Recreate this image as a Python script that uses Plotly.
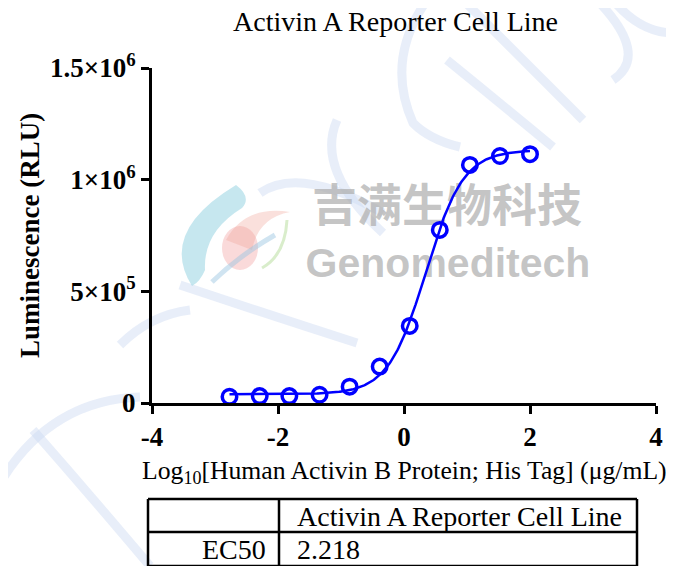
import numpy as np
import plotly.graph_objects as go

# ---- data ----
log_conc = [-2.77, -2.29, -1.82, -1.34, -0.863, -0.386, 0.091, 0.568, 1.046, 1.523, 2.0]
rlu = [28000, 31000, 31000, 37000, 73000, 163000, 345000, 775000, 1066000, 1106000, 1114000]
ec50 = 2.218
title_text = "Activin A Reporter Cell Line"
y_tickvals = [0, 500000, 1000000, 1500000]
y_ticktext = ["0", "5×10<sup>5</sup>", "1×10<sup>6</sup>", "1.5×10<sup>6</sup>"]
x_tickvals = [-4, -2, 0, 2, 4]
table_header = ["", "Activin A Reporter Cell Line"]
table_rows = [["EC50", "2.218"]]
watermark_cn = "吉满生物科技"
watermark_en = "Genomeditech"

# ---- 4PL fit (logEC50 fixed by the reported EC50) ----
xd = np.array(log_conc)
yd = np.array(rlu, dtype=float)
logec = np.log10(ec50)
best = None
for h in np.linspace(0.5, 3.0, 251):
    f = 1.0 / (1.0 + 10 ** ((logec - xd) * h))
    A = np.vstack([np.ones_like(f), f]).T
    coef, res, *_ = np.linalg.lstsq(A, yd, rcond=None)
    err = np.sum((A @ coef - yd) ** 2)
    if best is None or err < best[0]:
        best = (err, h, coef)
_, hill, (bottom, span) = best
xc = np.linspace(min(log_conc), max(log_conc), 300)
yc = bottom + span / (1.0 + 10 ** ((logec - xc) * hill))

# page is rendered with an 8px body margin
OFF = 8
FIG_W, FIG_H = 674, 566
L, T = 152 - OFF, 68 - OFF
PR, PB = 656 - OFF, 403 - OFF
R, B = FIG_W - PR, FIG_H - PB
PW, PH = PR - L, PB - T
XR = (-4, 4)
YR = (0, 1500000)


def px(x):
    return (x - OFF - L) / PW


def py(y):
    return (PB - (y - OFF)) / PH


def dx(x):
    return XR[0] + px(x) * (XR[1] - XR[0])


def dy(y):
    return YR[0] + py(y) * (YR[1] - YR[0])


def path(pts, closed=False):
    s = "M {:.4f} {:.4f}".format(px(pts[0][0]), py(pts[0][1]))
    i = 1
    while i + 1 < len(pts):
        s += " Q {:.4f} {:.4f} {:.4f} {:.4f}".format(px(pts[i][0]), py(pts[i][1]),
                                                    px(pts[i + 1][0]), py(pts[i + 1][1]))
        i += 2
    if closed:
        s += " Z"
    return s


serif = "Liberation Serif, Times New Roman, serif"
blue = "#0000FF"

fig = go.Figure()
# watermark text (below the data)
fig.add_trace(go.Scatter(x=[dx(447)], y=[dy(211)], mode="text", text=[watermark_cn],
                         textfont=dict(family="Noto Sans CJK SC", size=45, weight="bold",
                                       color="rgba(175,175,175,0.72)"),
                         cliponaxis=False, hoverinfo="skip", showlegend=False))
fig.add_trace(go.Scatter(x=[dx(448)], y=[dy(267)], mode="text", text=[watermark_en],
                         textfont=dict(family="Liberation Sans, Arial", size=41, weight="bold",
                                       color="rgba(175,175,175,0.72)"),
                         cliponaxis=False, hoverinfo="skip", showlegend=False))
fig.add_trace(go.Scatter(x=xc, y=yc, mode="lines", line=dict(color=blue, width=2.5),
                         hoverinfo="skip", showlegend=False))
fig.add_trace(go.Scatter(x=log_conc, y=rlu, mode="markers",
                         marker=dict(symbol="circle-open", size=14.5, color=blue,
                                     line=dict(width=3.5, color=blue)),
                         cliponaxis=False, showlegend=False))

axis_common = dict(showgrid=False, zeroline=False, showline=True, linecolor="black",
                   linewidth=3, ticks="outside", ticklen=8, tickwidth=3, tickcolor="black",
                   tickfont=dict(family=serif, size=27, color="black", weight="bold"))
fig.update_xaxes(range=list(XR), tickvals=x_tickvals, ticktext=[str(v) for v in x_tickvals],
                 **axis_common)
fig.update_yaxes(range=list(YR), tickvals=y_tickvals, ticktext=y_ticktext, **axis_common)

ann = []


def add_text(text, x, y, size, xanchor="center", bold=False, angle=0):
    font = dict(family=serif, size=size, color="black")
    if bold:
        font["weight"] = "bold"
    ann.append(dict(text=text, x=px(x), y=py(y), xref="paper", yref="paper",
                    xanchor=xanchor, yanchor="middle", textangle=angle,
                    showarrow=False, font=font))


add_text(title_text, 395, 21, 28)
add_text("Luminescence (RLU)", 30, 236, 27, bold=True, angle=-90)
add_text("Log<sub>10</sub>[Human Activin B Protein; His Tag] (μg/mL)", 404, 472, 25.7)

shapes = []
# faint watermark strokes
stroke = dict(color="rgba(205,218,242,0.45)", width=9)
strokes = [
    [(33, 430), (90, 495), (150, 566)],
    [(0, 483), (50, 400), (140, 397)],
    [(120, 345), (150, 315), (190, 310)],
    [(180, 285), (270, 315), (357, 343)],
    [(427, 0), (385, 60), (413, 123), (430, 140), (460, 147)],
    [(463, 0), (523, 60), (583, 120)],
    [(447, 60), (500, 103), (553, 147)],
    [(597, 0), (650, 55), (613, 80)],
    [(613, 0), (640, 33), (674, 33)],
    [(337, 120), (315, 170), (383, 233)],
    [(260, 193), (300, 165), (383, 213)],
]
for s in strokes:
    shapes.append(dict(type="path", xref="paper", yref="paper", path=path(s),
                       line=stroke, layer="below"))
# colored logo: cyan crescent
shapes.append(dict(type="path", xref="paper", yref="paper",
                   path=path([(236, 185), (158, 232), (192, 286),
                              (200, 282), (205, 270),
                              (203, 232), (242, 208),
                              (252, 197), (236, 185)], closed=True),
                   fillcolor="rgba(160,215,228,0.6)", line=dict(width=0), layer="below"))
# pink teardrop
shapes.append(dict(type="circle", xref="paper", yref="paper",
                   x0=px(222), x1=px(258), y0=py(226), y1=py(270),
                   fillcolor="rgba(240,150,150,0.35)", line=dict(width=0), layer="below"))
shapes.append(dict(type="path", xref="paper", yref="paper",
                   path=path([(226, 240), (245, 205), (290, 212),
                              (258, 218), (252, 250)], closed=True),
                   fillcolor="rgba(240,160,150,0.33)", line=dict(width=0), layer="below"))
# green thin stroke and dna strand
shapes.append(dict(type="path", xref="paper", yref="paper",
                   path=path([(287, 220), (285, 255), (262, 268)]),
                   line=dict(color="rgba(170,215,140,0.45)", width=3), layer="below"))
shapes.append(dict(type="path", xref="paper", yref="paper",
                   path=path([(212, 282), (240, 255), (275, 235)]),
                   line=dict(color="rgba(150,195,225,0.45)", width=5), layer="below"))

# table
tx0, tx1, tdiv = 148, 637, 279
ty0, ty1, ty2 = 499, 532, 566
line_style = dict(color="black", width=2.5)
for (x0, y0, x1, y1) in [(tx0, ty0, tx1, ty0), (tx0, ty1, tx1, ty1), (tx0, ty2, tx1, ty2),
                         (tx0, ty0, tx0, ty2), (tx1, ty0, tx1, ty2), (tdiv, ty0, tdiv, ty2)]:
    shapes.append(dict(type="line", xref="paper", yref="paper", x0=px(x0), y0=py(y0),
                       x1=px(x1), y1=py(y1), line=line_style))
add_text(table_header[1], 295, 516, 28, xanchor="left")
for i, row in enumerate(table_rows):
    yc_row = 549 + i * 34
    add_text(row[0], 268, yc_row, 28, xanchor="right")
    add_text(row[1], 295, yc_row, 28, xanchor="left")

fig.update_layout(width=FIG_W, height=FIG_H, margin=dict(l=L, r=R, t=T, b=B),
                  paper_bgcolor="white", plot_bgcolor="rgba(0,0,0,0)",
                  annotations=ann, shapes=shapes, showlegend=False)
fig.write_html("out.html")
